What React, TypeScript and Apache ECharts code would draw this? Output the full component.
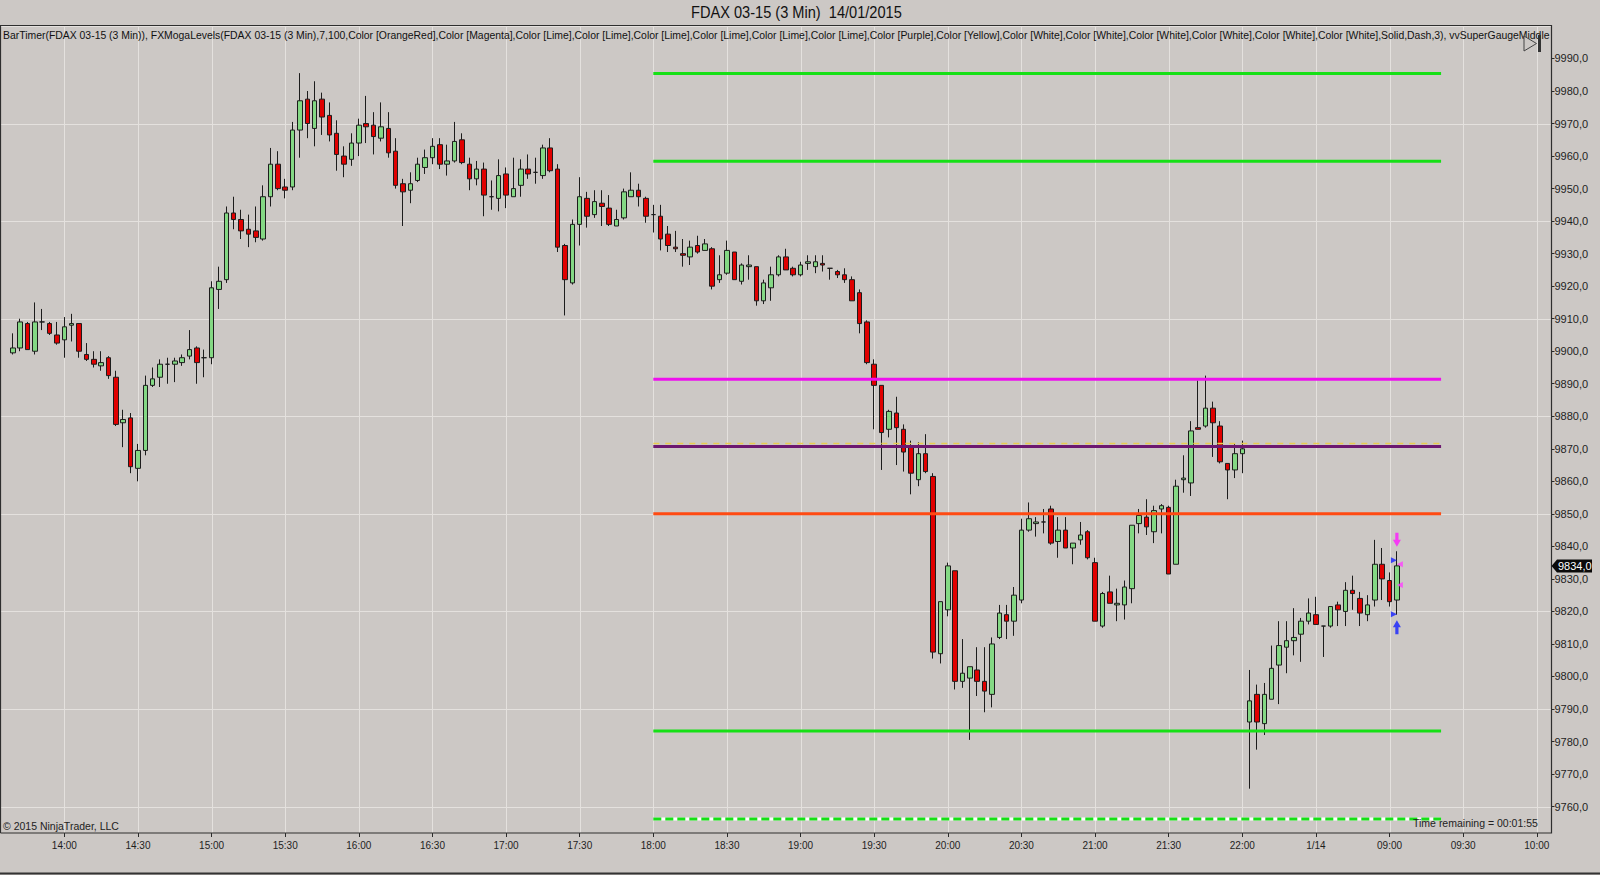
import React, { useEffect, useRef } from "react";
import * as echarts from "echarts";

// ---------- DATA (FDAX 03-15, 3 min bars, 13:39 .. 22:00, then 08:03 .. 09:03) ----------
const openP = [
  9899.5, 9901, 9908.5, 9900, 9909, 9908.5, 9905, 9903.5, 9908, 9908.5,
  9899, 9897.5, 9895.5, 9898, 9892, 9878, 9879.5, 9864, 9869.5, 9889.5,
  9892, 9896, 9896, 9896.5, 9898.5, 9901, 9898, 9898, 9919, 9922,
  9942.5, 9940.5, 9937.5, 9937, 9934.5, 9947.5, 9957.5, 9950.5, 9950.5, 9968,
  9977.5, 9968.5, 9977.5, 9972.5, 9967, 9960, 9959, 9964, 9970, 9969.5,
  9965.5, 9968.5, 9961.5, 9951.5, 9949.5, 9952.5, 9956.5, 9959.5, 9963.5, 9957.5,
  9958.5, 9965, 9957.5, 9953, 9956, 9947.5, 9947, 9954.5, 9947.5, 9951,
  9956, 9955, 9954, 9962.5, 9956, 9932.5, 9921, 9939, 9947, 9942,
  9945.5, 9944, 9938.5, 9941, 9947.5, 9949.5, 9947, 9942, 9941.5, 9936,
  9932, 9930, 9929, 9932.5, 9931, 9931.5, 9922, 9924, 9930.5, 9921.5,
  9926, 9926, 9915.5, 9919.5, 9923.5, 9929, 9925.5, 9923.5, 9927, 9926,
  9927, 9925.5, 9924.5, 9923.5, 9922, 9918, 9909, 9896, 9889.5, 9876,
  9881, 9876, 9870.5, 9860.5, 9868.5, 9861.5, 9807, 9820.5, 9832.5, 9798.5,
  9799.5, 9802, 9798.5, 9794.5, 9812, 9819, 9817, 9823.5, 9845, 9847,
  9847.5, 9851.5, 9841.5, 9845, 9839.5, 9842, 9844.5, 9835, 9815.5, 9826,
  9822, 9822, 9827, 9847, 9849, 9844.5, 9851.5, 9852, 9834.5, 9860.5,
  9859.5, 9876.5, 9877, 9882.5, 9877, 9865.5, 9863.5, 9868.5, 9786, 9794.5,
  9785.5, 9793, 9803.5, 9809, 9811, 9813, 9817, 9819, 9815.5, 9815.5,
  9822, 9820, 9826.5, 9824, 9819, 9823.5, 9834.5, 9829.5, 9823.5,
];
const highP = [
  9905.5, 9910, 9909, 9915, 9913, 9909, 9909, 9910.5, 9911.5, 9908.5,
  9902.5, 9900, 9900, 9898.5, 9894, 9882, 9881, 9871.5, 9892.5, 9895,
  9897.5, 9898, 9898, 9899, 9906.5, 9901.5, 9900.5, 9921.5, 9926, 9944.5,
  9947.5, 9943.5, 9942, 9944.5, 9951, 9962.5, 9961.5, 9953, 9970.5, 9985.5,
  9980, 9983, 9979.5, 9976.5, 9971, 9963, 9967, 9971.5, 9978.5, 9973.5,
  9976.5, 9973.5, 9965.5, 9953, 9955, 9959.5, 9962, 9965.5, 9965.5, 9963.5,
  9970.5, 9967, 9959.5, 9958.5, 9958, 9952.5, 9959, 9956.5, 9959.5, 9959,
  9960.5, 9959.5, 9963.5, 9965.5, 9957.5, 9933, 9940.5, 9953.5, 9949, 9949.5,
  9949.5, 9948, 9943.5, 9950, 9955, 9951.5, 9947.5, 9945, 9945, 9938.5,
  9937, 9934.5, 9934, 9935.5, 9934.5, 9932, 9929.5, 9934, 9930.5, 9927,
  9929.5, 9926, 9922, 9926, 9929.5, 9931.5, 9926, 9927.5, 9929.5, 9929.5,
  9929.5, 9925.5, 9925, 9925.5, 9923, 9919, 9909.5, 9897.5, 9889.5, 9882,
  9886, 9877.5, 9872.5, 9872, 9874.5, 9862.5, 9823, 9835, 9832.5, 9811.5,
  9803, 9809, 9809, 9812, 9822, 9822, 9827.5, 9848.5, 9853.5, 9849,
  9851.5, 9852.5, 9849, 9849, 9841, 9847.5, 9845, 9836.5, 9826, 9831,
  9827, 9829.5, 9846.5, 9851.5, 9854.5, 9852.5, 9853, 9852.5, 9860.5, 9868,
  9878.5, 9891, 9892.5, 9884.5, 9878.5, 9865.5, 9871.5, 9872.5, 9802, 9797.5,
  9798, 9809.5, 9817, 9817, 9821, 9818, 9824, 9824.5, 9815.5, 9821.5,
  9823, 9829, 9831, 9826, 9825, 9842, 9839.5, 9832, 9838.5,
];
const lowP = [
  9899, 9900, 9900.5, 9899, 9906.5, 9905, 9902, 9898, 9903, 9898,
  9897, 9895, 9894, 9891.5, 9877, 9870.5, 9862.5, 9860, 9868, 9889,
  9889, 9890, 9890.5, 9895.5, 9897.5, 9890, 9892, 9896, 9913, 9921,
  9937.5, 9934.5, 9932, 9933.5, 9934, 9944.5, 9949.5, 9947, 9949.5, 9959.5,
  9965.5, 9963, 9966.5, 9964.5, 9955.5, 9953.5, 9957, 9960, 9964, 9960.5,
  9964.5, 9959.5, 9950, 9938.5, 9945.5, 9952, 9954.5, 9957.5, 9956, 9954,
  9958, 9957.5, 9949.5, 9951, 9941.5, 9943.5, 9943, 9944, 9947.5, 9947.5,
  9953, 9951.5, 9953, 9955, 9930.5, 9911, 9920.5, 9932.5, 9938, 9941,
  9938.5, 9938.5, 9938.5, 9940.5, 9947.5, 9944.5, 9939.5, 9936.5, 9931, 9930.5,
  9930.5, 9926, 9926.5, 9930, 9931, 9919, 9921, 9923.5, 9922, 9920.5,
  9922, 9914, 9914.5, 9915.5, 9923, 9925, 9923, 9923, 9925, 9924,
  9924.5, 9922, 9922.5, 9921, 9915.5, 9905.5, 9896, 9876, 9863.5, 9873.5,
  9865, 9863, 9856, 9858.5, 9862.5, 9805.5, 9804, 9818.5, 9796, 9796.5,
  9780.5, 9794, 9789, 9790.5, 9811.5, 9811.5, 9812.5, 9822.5, 9844.5, 9843,
  9844, 9840.5, 9836.5, 9839.5, 9834.5, 9840.5, 9836, 9817, 9815, 9822.5,
  9817, 9817.5, 9822.5, 9844, 9843.5, 9841, 9844, 9831.5, 9834.5, 9856.5,
  9855.5, 9876, 9876.5, 9867.5, 9865.5, 9854.5, 9861, 9862.5, 9765.5, 9777.5,
  9782, 9793, 9791.5, 9801, 9806.5, 9804.5, 9816, 9816, 9806, 9815,
  9815.5, 9815.5, 9820.5, 9815.5, 9817, 9821.5, 9823.5, 9821.5, 9819,
];
const closeP = [
  9901, 9909, 9900.5, 9909, 9909, 9905.5, 9902.5, 9907.5, 9908.5, 9900,
  9897.5, 9896, 9896.5, 9892.5, 9877.5, 9879, 9864.5, 9869.5, 9889.5, 9891.5,
  9896, 9896, 9897, 9898, 9900.5, 9896.5, 9898, 9919.5, 9921.5, 9942.5,
  9940.5, 9937, 9936, 9935, 9947.5, 9957.5, 9950, 9949.5, 9968, 9977,
  9970, 9977, 9972, 9966.5, 9960.5, 9957.5, 9964, 9969.5, 9969, 9966,
  9969, 9961, 9951, 9949, 9951.5, 9957.5, 9959.5, 9963, 9957.5, 9958.5,
  9964.5, 9958, 9953, 9956, 9948, 9947.5, 9954, 9948, 9950, 9956,
  9954.5, 9955, 9962.5, 9955.5, 9932, 9922, 9939, 9947.5, 9941.5, 9946,
  9944.5, 9939, 9940.5, 9949, 9949.5, 9947.5, 9941.5, 9942, 9934.5, 9932.5,
  9931.5, 9929.5, 9932, 9930.5, 9933, 9920, 9923.5, 9931, 9922, 9926.5,
  9926.5, 9915.5, 9921, 9923.5, 9929, 9925, 9923.5, 9926.5, 9927.5, 9927.5,
  9926.5, 9925.5, 9923.5, 9922, 9915.5, 9908.5, 9896.5, 9889.5, 9875, 9881.5,
  9876.5, 9869, 9862.5, 9868.5, 9863, 9807.5, 9823, 9834, 9798.5, 9801,
  9803, 9798.5, 9795.5, 9810, 9819.5, 9817, 9825, 9845, 9848.5, 9847.5,
  9847.5, 9841, 9845, 9839.5, 9841, 9843.5, 9836.5, 9817, 9825.5, 9822.5,
  9822.5, 9827.5, 9846.5, 9849.5, 9846, 9851, 9852.5, 9831.5, 9858.5, 9861,
  9875.5, 9876, 9882.5, 9878, 9866, 9863.5, 9868.5, 9870, 9792.5, 9786,
  9794.5, 9802.5, 9809.5, 9811, 9812, 9817, 9819.5, 9816, 9815.5, 9821.5,
  9820.5, 9826.5, 9825.5, 9819.5, 9822, 9834.5, 9830, 9823, 9834,
];

// FXMogaLevels
const levelFrom = 87; // 18:00 bar
const levelTo = 194;
const limeLevels = [9985.4, 9958.4, 9783.2];
const magentaLevel = 9891.4;
const yellowLevel = 9871.6;
const purpleLevel = 9870.7;
const orangeLevel = 9850.0;
const dashedLevel = 9756.2;

// indicator marks on the last bar
const sellArrow = [9842.0];
const buyArrow = [9815.1];
const blueMarks = [9835.7, 9819.1];
const pinkMarks = [9834.5, 9828.1];

// axes
const yTickValues = [9760, 9770, 9780, 9790, 9800, 9810, 9820, 9830, 9840, 9850, 9860, 9870, 9880, 9890, 9900, 9910, 9920, 9930, 9940, 9950, 9960, 9970, 9980, 9990];
const hGridValues = [9760, 9790, 9820, 9850, 9880, 9910, 9940, 9970, 10000];
const xTickLabels = ["14:00", "14:30", "15:00", "15:30", "16:00", "16:30", "17:00", "17:30", "18:00", "18:30", "19:00", "19:30", "20:00", "20:30", "21:00", "21:30", "22:00", "1/14", "09:00", "09:30", "10:00"];
const firstTickIndex = 7;
const tickStep = 10;
const categoryCount = 210;

const TITLE = "FDAX 03-15 (3 Min)  14/01/2015";
const LEGEND =
  "BarTimer(FDAX 03-15 (3 Min)), FXMogaLevels(FDAX 03-15 (3 Min),7,100,Color [OrangeRed],Color [Magenta],Color [Lime],Color [Lime],Color [Lime],Color [Lime],Color [Lime],Color [Lime],Color [Purple],Color [Yellow],Color [White],Color [White],Color [White],Color [White],Color [White],Color [White],Solid,Dash,3), vvSuperGaugeMiddle";

const BG = "#ccc8c5";
const FONT = "Liberation Sans";

function pad(n: number) {
  return (n < 10 ? "0" : "") + n;
}
function buildCategories(): string[] {
  const out: string[] = [];
  for (let i = 0; i < categoryCount; i++) {
    let m: number;
    if (i < 168) m = 13 * 60 + 39 + 3 * i;
    else m = 8 * 60 + 3 + 3 * (i - 168);
    out.push(pad(Math.floor(m / 60)) + ":" + pad(m % 60));
  }
  return out;
}

function measure(text: string, size: number) {
  const c = document.createElement("canvas").getContext("2d")!;
  c.font = `${size}px "${FONT}"`;
  return c.measureText(text).width;
}

function fitText(text: string, x: number, y: number, width: number, size: number, color: string, z = 20) {
  const w = measure(text, size);
  return {
    type: "text",
    x,
    y,
    scaleX: width / w,
    z,
    silent: true,
    style: { text, fill: color, fontSize: size, fontFamily: FONT, align: "left", verticalAlign: "middle" },
  };
}

export default function App() {
  const ref = useRef<HTMLDivElement>(null);

  useEffect(() => {
    if (!ref.current) return;
    const chart = echarts.init(ref.current, undefined, { renderer: "svg" });
    const cats = buildCategories();
    const candles = openP.map((o, i) => [o, closeP[i], lowP[i], highP[i]]);
    const tickSet = new Set<number>();
    xTickLabels.forEach((_, k) => tickSet.add(firstTickIndex + k * tickStep));
    const labelOf: Record<string, string> = {};
    xTickLabels.forEach((lab, k) => {
      labelOf[cats[firstTickIndex + k * tickStep]] = lab;
    });

    const levelLine = (v: number, color: string, width: number, type: any = "solid", z = 5) => ({
      type: "line",
      data: [
        [levelFrom, v],
        [levelTo, v],
      ],
      symbol: "none",
      silent: true,
      z,
      lineStyle: { color, width, type, cap: "butt" },
    });

    const yTop = 25.97;
    const yBottom = 875 - 839.1;

    chart.setOption({
      animation: false,
      backgroundColor: BG,
      textStyle: { fontFamily: FONT },
      grid: { left: 12.8, right: 48.5, top: yTop, bottom: yBottom, containLabel: false },
      xAxis: {
        type: "category",
        data: cats,
        boundaryGap: false,
        offset: -6.1,
        axisLine: { show: false },
        axisTick: {
          show: true,
          length: 4,
          interval: (i: number) => tickSet.has(i),
          lineStyle: { color: "#2a2a2a" },
        },
        axisLabel: {
          interval: (i: number) => tickSet.has(i),
          formatter: (v: string) => labelOf[v] ?? v,
          fontSize: 10,
          color: "#1e1e1e",
          margin: 7,
          fontFamily: FONT,
        },
        splitLine: { show: false },
      },
      yAxis: {
        type: "value",
        position: "right",
        min: 9750,
        max: 10000,
        interval: 10,
        scale: true,
        axisLine: { show: false },
        axisTick: { show: true, length: 3, lineStyle: { color: "#2a2a2a" } },
        axisLabel: {
          showMinLabel: false,
          showMaxLabel: false,
          formatter: (v: number) => (yTickValues.indexOf(v) >= 0 ? v.toFixed(1).replace(".", ",") : ""),
          fontSize: 11,
          color: "#1e1e1e",
          margin: 3,
          fontFamily: FONT,
        },
        splitLine: { show: false },
      },
      series: [
        {
          type: "candlestick",
          data: candles,
          barWidth: 5,
          z: 3,
          itemStyle: {
            color: "#84d884",
            color0: "#e00000",
            borderColor: "#1c1c1c",
            borderColor0: "#1c1c1c",
            borderColorDoji: "#1c1c1c",
            borderWidth: 1,
          },
          silent: true,
        },
        ...limeLevels.map((v) => levelLine(v, "#16e016", 3)),
        levelLine(magentaLevel, "#ee10ee", 3),
        levelLine(purpleLevel, "#6c1870", 3),
        levelLine(yellowLevel, "#e8cc50", 1.5, [6, 6], 6),
        levelLine(orangeLevel, "#ff4a12", 3),
        levelLine(dashedLevel, "#ffffff", 3),
        levelLine(dashedLevel, "#16e016", 3, [8, 4], 6),
        {
          type: "scatter",
          data: sellArrow.map((v) => [188, v]),
          symbol: "path://M3,0L7,0L7,7L10,7L5,14L0,7L3,7Z",
          symbolSize: [8, 14],
          itemStyle: { color: "#ff18ff" },
          z: 8,
          silent: true,
        },
        {
          type: "scatter",
          data: buyArrow.map((v) => [188, v]),
          symbol: "path://M5,0L10,7L7,7L7,14L3,14L3,7L0,7Z",
          symbolSize: [8, 14],
          itemStyle: { color: "#1420ff" },
          z: 8,
          silent: true,
        },
        {
          type: "scatter",
          data: blueMarks.map((v) => [188, v]),
          symbol: "triangle",
          symbolRotate: -90,
          symbolSize: 6,
          symbolOffset: [-3, 0],
          itemStyle: { color: "#1420ff" },
          z: 8,
          silent: true,
        },
        {
          type: "scatter",
          data: pinkMarks.map((v) => [188, v]),
          symbol: "triangle",
          symbolRotate: 90,
          symbolSize: 6,
          symbolOffset: [3, 0],
          itemStyle: { color: "#ff40ff" },
          z: 8,
          silent: true,
        },
      ],
    });

    // decorations positioned through the chart's own scales
    const toPx = (i: number, v: number) => chart.convertToPixel({ xAxisIndex: 0, yAxisIndex: 0 }, [i, v]) as number[];
    const frameTop = 25.5;
    const frameBottom = 833;
    const frameRight = 1551.5;
    const graphics: any[] = [];
    tickSet.forEach((i) => {
      const x = Math.round(toPx(i, 9800)[0]) + 0.5;
      graphics.push({
        type: "line",
        z: 1,
        silent: true,
        shape: { x1: x, y1: frameTop, x2: x, y2: frameBottom },
        style: { stroke: "#e4e1de", lineWidth: 1 },
      });
    });
    hGridValues.forEach((v) => {
      const y = Math.round(toPx(0, v)[1]) + 0.5;
      if (y < frameTop + 1) return;
      graphics.push({
        type: "line",
        z: 1,
        silent: true,
        shape: { x1: 0, y1: y, x2: frameRight, y2: y },
        style: { stroke: "#e4e1de", lineWidth: 1 },
      });
    });
    // frame
    graphics.push({
      type: "polyline",
      z: 20,
      silent: true,
      shape: {
        points: [
          [0.5, frameBottom],
          [0.5, frameTop],
          [frameRight, frameTop],
          [frameRight, frameBottom],
          [0.5, frameBottom],
        ],
      },
      style: { stroke: "#2e2e2e", lineWidth: 1.2, fill: null },
    });
    graphics.push({
      type: "line",
      z: 20,
      silent: true,
      shape: { x1: 0, y1: 873.5, x2: 1600, y2: 873.5 },
      style: { stroke: "#333", lineWidth: 2 },
    });
    // texts
    graphics.push(fitText(TITLE, 691, 12.5, 211, 17, "#111"));
    graphics.push(fitText(LEGEND, 3, 35.3, 1548, 10, "#111"));
    graphics.push(fitText("\u00a9 2015 NinjaTrader, LLC", 3, 826.5, 116, 10, "#222"));
    graphics.push(fitText("Time remaining = 00:01:55", 1413, 823.8, 125, 10, "#222"));
    // play/pause icon
    graphics.push({
      type: "polygon",
      z: 22,
      silent: true,
      shape: { points: [[1524, 36], [1536.5, 43.5], [1524, 51]] },
      style: { stroke: "#444", fill: BG, lineWidth: 1 },
    });
    graphics.push({
      type: "rect",
      z: 22,
      silent: true,
      shape: { x: 1538, y: 35, width: 3, height: 17 },
      style: { fill: "#333" },
    });
    // last price marker
    const lastClose = closeP[closeP.length - 1];
    const py = toPx(0, lastClose)[1];
    graphics.push({
      type: "polygon",
      z: 22,
      silent: true,
      shape: {
        points: [
          [frameRight, py],
          [frameRight + 5.5, py - 6.5],
          [1592, py - 6.5],
          [1592, py + 6.5],
          [frameRight + 5.5, py + 6.5],
        ],
      },
      style: { fill: "#0a0a0a" },
    });
    graphics.push({
      type: "text",
      z: 23,
      silent: true,
      x: 1558,
      y: py,
      style: {
        text: lastClose.toFixed(1).replace(".", ","),
        fill: "#fff",
        fontSize: 11,
        fontFamily: FONT,
        align: "left",
        verticalAlign: "middle",
      },
    });
    chart.setOption({ graphic: graphics });

    return () => chart.dispose();
  }, []);

  return <div ref={ref} style={{ position: "absolute", left: 0, top: 0, width: 1600, height: 875 }} />;
}
